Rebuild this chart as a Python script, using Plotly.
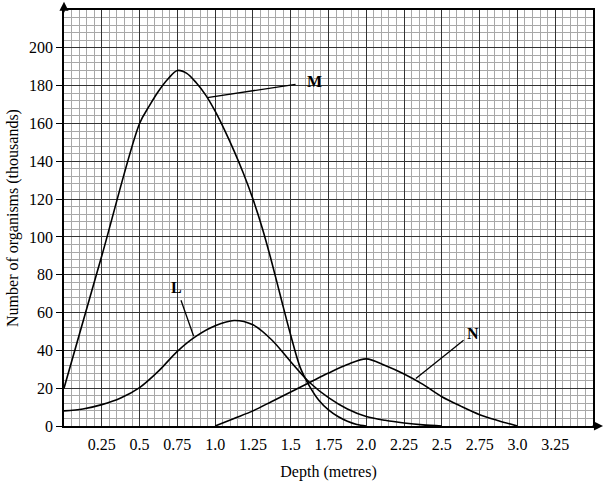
import plotly.graph_objects as go

# Curve M
M_depth = [0, 0.25, 0.5, 0.5625, 0.625, 0.6875, 0.75, 0.8125, 0.875, 0.9375, 1.0, 1.0625, 1.125, 1.1875,
           1.25, 1.3125, 1.375, 1.4375, 1.5, 1.5625, 1.625, 1.6875, 1.75, 1.8125, 1.875, 1.9375, 2.0]
M_count = [20, 90, 160, 169, 177, 183.5, 188, 186.5, 181.5, 175, 166.5, 156.5, 145.5, 133.5,
           120, 104.5, 86.5, 67, 48, 31, 21, 13.5, 8.5, 5, 2.5, 0.8, 0]

# Curve L
L_depth = [0, 0.125, 0.25, 0.375, 0.5, 0.625, 0.75, 0.875, 1.0, 1.125, 1.25, 1.375, 1.5, 1.625,
           1.75, 1.875, 2.0, 2.125, 2.25, 2.375, 2.5]
L_count = [8, 9, 11.3, 14.8, 20.3, 29, 39.5, 47.5, 53, 55.8, 53.5, 45.5, 34, 23,
           15, 9, 5, 3, 1.6, 0.6, 0]

# Curve N
N_depth = [1.0, 1.125, 1.25, 1.375, 1.5, 1.625, 1.75, 1.875, 2.0, 2.125, 2.25, 2.375, 2.5, 2.625, 2.75, 2.875, 3.0]
N_count = [0, 4, 8, 13, 18, 23, 28, 32.5, 35.5, 32, 27.5, 22, 15.5, 10.5, 6, 2.8, 0]

x_tickvals = [0.25, 0.5, 0.75, 1.0, 1.25, 1.5, 1.75, 2.0, 2.25, 2.5, 2.75, 3.0, 3.25]
x_ticktext = ["0.25", "0.5", "0.75", "1.0", "1.25", "1.5", "1.75", "2.0", "2.25", "2.5", "2.75", "3.0", "3.25"]
y_tickvals = [0, 20, 40, 60, 80, 100, 120, 140, 160, 180, 200]
y_ticktext = [str(v) for v in y_tickvals]

FONT = "Liberation Serif, Times New Roman, serif"

fig = go.Figure()
for xs, ys in [(M_depth, M_count), (L_depth, L_count), (N_depth, N_count)]:
    fig.add_trace(go.Scatter(x=xs, y=ys, mode="lines",
                             line=dict(color="black", width=1.6, shape="spline", smoothing=0.9),
                             showlegend=False, hoverinfo="skip"))

# leader lines
leaders = [
    (0.948, 173.7, 1.532, 180.7),
    (0.858, 47.5, 0.774, 66.5),
    (2.328, 25.1, 2.644, 45.4),
]
for x0, y0, x1, y1 in leaders:
    fig.add_shape(type="line", x0=x0, y0=y0, x1=x1, y1=y1, xref="x", yref="y",
                  line=dict(color="black", width=1.3))

labels = [("M", 1.655, 182), ("L", 0.747, 73.3), ("N", 2.703, 48.9)]
for t, x, y in labels:
    fig.add_annotation(x=x, y=y, text=f"<b>{t}</b>", showarrow=False,
                       font=dict(family=FONT, size=16, color="black"))

# axis arrows
fig.add_annotation(x=0, y=1.02, xref="paper", yref="paper", ax=0, ay=12,
                   text="", showarrow=True,
                   arrowhead=2, arrowsize=1.4, arrowwidth=1.3, arrowcolor="black")
fig.add_annotation(x=1.019, y=0, xref="paper", yref="paper", ax=-12, ay=0,
                   text="", showarrow=True,
                   arrowhead=2, arrowsize=1.4, arrowwidth=1.3, arrowcolor="black")

fig.update_layout(
    width=609, height=481,
    margin=dict(l=64, r=16, t=10, b=55, autoexpand=False),
    paper_bgcolor="white", plot_bgcolor="white",
    font=dict(family=FONT, size=16, color="black"),
    xaxis=dict(
        range=[0, 3.5], tickmode="array", tickvals=x_tickvals, ticktext=x_ticktext,
        showgrid=True, gridcolor="#333", gridwidth=1,
        minor=dict(tickmode="linear", tick0=0, dtick=0.05, showgrid=True, gridcolor="#a8a8a8", gridwidth=1),
        showline=True, linecolor="black", linewidth=1.5, mirror=True,
        ticks="outside", ticklen=3, tickcolor="rgba(0,0,0,0)",
        zeroline=False, fixedrange=True, automargin=False,
        title=dict(text="Depth (metres)", font=dict(size=16), standoff=14),
    ),
    yaxis=dict(
        range=[0, 220], tickmode="array", tickvals=y_tickvals, ticktext=y_ticktext,
        showgrid=True, gridcolor="#333", gridwidth=1,
        minor=dict(tickmode="linear", tick0=0, dtick=4, showgrid=True, gridcolor="#a8a8a8", gridwidth=1),
        showline=True, linecolor="black", linewidth=1.5, mirror=True,
        ticks="outside", ticklen=6, tickcolor="black",
        zeroline=False, fixedrange=True, automargin=False,
        title=dict(text="Number of organisms (thousands)", font=dict(size=16), standoff=6),
    ),
)

fig.write_html("out.html")
